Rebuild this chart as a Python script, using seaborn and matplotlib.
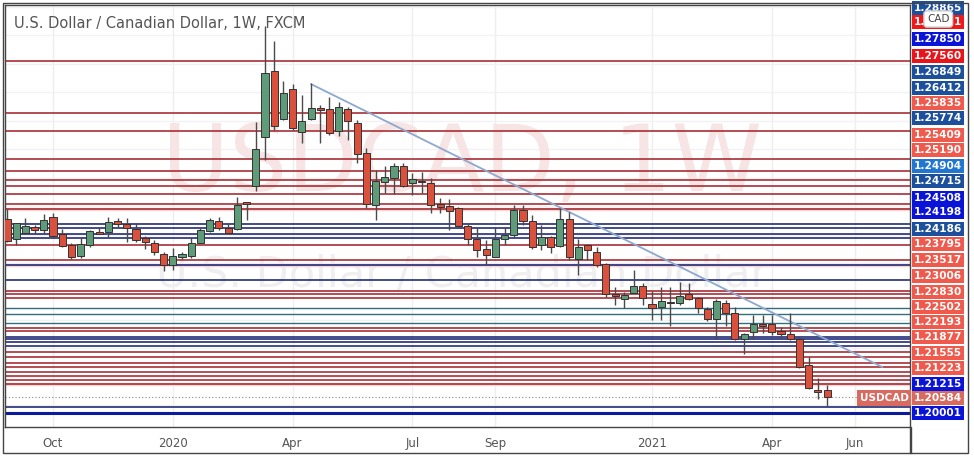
import numpy as np
import pandas as pd
import matplotlib
matplotlib.use("Agg")
import matplotlib.pyplot as plt
import seaborn as sns

# weekly USDCAD candles
opens = [1.3309, 1.3169, 1.3211, 1.3253, 1.3232, 1.3323, 1.3204, 1.3127, 1.3049, 1.3127,
         1.3218, 1.3218, 1.3295, 1.3274, 1.3239, 1.3176, 1.3141, 1.3063, 1.2986, 1.3042,
         1.3049, 1.3141, 1.3225, 1.3295, 1.3246, 1.3239, 1.3429, 1.3541, 1.3886, 1.4350,
         1.4012, 1.4223, 1.3921, 1.4012, 1.4090, 1.4083, 1.3928, 1.4083, 1.3984, 1.3773,
         1.3408, 1.3570, 1.3598, 1.3682, 1.3562, 1.3577, 1.3562, 1.3415, 1.3401, 1.3387,
         1.3260, 1.3169, 1.3099, 1.3042, 1.3169, 1.3197, 1.3373, 1.3295, 1.3127, 1.3183,
         1.3120, 1.3309, 1.3028, 1.3127, 1.3077, 1.2993, 1.2782, 1.2746, 1.2789, 1.2838,
         1.2712, 1.2690, 1.2725, 1.2718, 1.2782, 1.2754, 1.2676, 1.2605, 1.2718, 1.2648,
         1.2465, 1.2514, 1.2570, 1.2570, 1.2521, 1.2500, 1.2465, 1.2282, 1.2107, 1.2107]
closes = [1.3155, 1.3281, 1.3260, 1.3232, 1.3302, 1.3190, 1.3120, 1.3042, 1.3134, 1.3225,
          1.3204, 1.3288, 1.3274, 1.3246, 1.3162, 1.3148, 1.3077, 1.2986, 1.3049, 1.3063,
          1.3141, 1.3232, 1.3302, 1.3246, 1.3211, 1.3408, 1.3415, 1.3802, 1.4336, 1.3963,
          1.4195, 1.3949, 1.3998, 1.4090, 1.4076, 1.3914, 1.4097, 1.3998, 1.3766, 1.3415,
          1.3577, 1.3605, 1.3682, 1.3541, 1.3591, 1.3570, 1.3408, 1.3394, 1.3366, 1.3260,
          1.3169, 1.3092, 1.3056, 1.3169, 1.3197, 1.3373, 1.3295, 1.3113, 1.3183, 1.3113,
          1.3309, 1.3042, 1.3113, 1.3092, 1.2986, 1.2782, 1.2768, 1.2775, 1.2838, 1.2754,
          1.2683, 1.2732, 1.2718, 1.2768, 1.2746, 1.2683, 1.2605, 1.2732, 1.2648, 1.2465,
          1.2500, 1.2570, 1.2556, 1.2514, 1.2500, 1.2465, 1.2268, 1.2121, 1.2093, 1.2058]
highs = [1.3380, 1.3281, 1.3316, 1.3267, 1.3345, 1.3352, 1.3239, 1.3141, 1.3183, 1.3232,
         1.3253, 1.3323, 1.3316, 1.3316, 1.3281, 1.3190, 1.3162, 1.3077, 1.3106, 1.3077,
         1.3176, 1.3246, 1.3316, 1.3323, 1.3281, 1.3464, 1.3429, 1.3992, 1.4666, 1.4561,
         1.4280, 1.4258, 1.4181, 1.4265, 1.4111, 1.4167, 1.4132, 1.4097, 1.4005, 1.3808,
         1.3654, 1.3682, 1.3703, 1.3703, 1.3633, 1.3640, 1.3598, 1.3457, 1.3450, 1.3394,
         1.3281, 1.3246, 1.3162, 1.3253, 1.3253, 1.3408, 1.3408, 1.3338, 1.3267, 1.3190,
         1.3387, 1.3359, 1.3169, 1.3134, 1.3113, 1.3000, 1.2831, 1.2796, 1.2948, 1.2859,
         1.2803, 1.2831, 1.2831, 1.2866, 1.2859, 1.2761, 1.2690, 1.2746, 1.2739, 1.2690,
         1.2507, 1.2634, 1.2634, 1.2634, 1.2549, 1.2648, 1.2479, 1.2338, 1.2192, 1.2142]
lows = [1.3148, 1.3127, 1.3204, 1.3204, 1.3211, 1.3176, 1.3113, 1.3028, 1.3035, 1.3113,
        1.3204, 1.3183, 1.3253, 1.3148, 1.3148, 1.3099, 1.3056, 1.2944, 1.2951, 1.3028,
        1.3035, 1.3141, 1.3218, 1.3232, 1.3211, 1.3232, 1.3302, 1.3506, 1.3724, 1.3935,
        1.4005, 1.3935, 1.3844, 1.4005, 1.3844, 1.3900, 1.3893, 1.3865, 1.3703, 1.3387,
        1.3302, 1.3492, 1.3485, 1.3534, 1.3478, 1.3492, 1.3352, 1.3352, 1.3232, 1.3246,
        1.3127, 1.3042, 1.2986, 1.3042, 1.3127, 1.3183, 1.3267, 1.3099, 1.3092, 1.3070,
        1.3113, 1.3021, 1.2916, 1.3021, 1.2972, 1.2761, 1.2705, 1.2683, 1.2789, 1.2705,
        1.2599, 1.2599, 1.2557, 1.2705, 1.2739, 1.2648, 1.2592, 1.2465, 1.2557, 1.2458,
        1.2360, 1.2465, 1.2507, 1.2493, 1.2465, 1.2458, 1.2261, 1.2114, 1.2044, 1.1995]
weeks = pd.date_range("2019-09-02", periods=len(opens), freq="W-MON")

# horizontal levels drawn on the chart
red_levels = [1.4420, 1.4055, 1.3928, 1.3731, 1.3647, 1.3584, 1.3541, 1.3485, 1.3415, 1.3380,
              1.3127, 1.3021, 1.2803, 1.2782, 1.2754, 1.2542, 1.2521, 1.2373, 1.2338, 1.2296,
              1.2268, 1.2233, 1.2205, 1.2177, 1.2149]
navy_levels = [1.3274, 1.3246, 1.3204, 1.3176, 1.2986, 1.2880, 1.2479, 1.2465, 1.2444, 1.2416, 1.1987]
teal_levels = [1.2683, 1.2641, 1.2577]
base_level = 1.1945

trend_dates = [pd.Timestamp("2020-04-20"), pd.Timestamp("2021-06-28")]
trend_prices = [1.4258, 1.2268]

# price labels stacked on the right scale
axis_labels = ["1.28865", "1.28831", "1.27850", "1.27560", "1.26849", "1.26412", "1.25835", "1.25774",
               "1.25409", "1.25190", "1.24904", "1.24715", "1.24508", "1.24198", "1.24186", "1.23795",
               "1.23517", "1.23006", "1.22830", "1.22502", "1.22193", "1.21877", "1.21555", "1.21223",
               "1.21215", "1.20584", "1.20001"]
label_colors = ["#1c4f9c", "#f01818", "#0a14d8", "#e8141a", "#1c4f9c", "#1c4f9c", "#ef5a4c", "#1c4f9c",
                "#ef5a4c", "#ef5a4c", "#2176d2", "#1c4f9c", "#0a14d8", "#0a14d8", "#1c4f9c", "#ef5a4c",
                "#ef5a4c", "#ef5a4c", "#ef5a4c", "#ef5a4c", "#ef5a4c", "#ef5a4c", "#ef5a4c", "#ef5a4c",
                "#0a14d8", "#d86a60", "#0a14d8"]
label_px = [8, 22, 39, 56, 72, 88, 103, 118, 135, 150, 166, 181, 198, 212, 229, 244,
            260, 276, 292, 307, 322, 337, 353, 368, 384, 398, 413]

tick_dates = ["2019-10-07", "2020-01-06", "2020-04-06", "2020-07-06", "2020-09-07",
              "2021-01-04", "2021-04-05", "2021-06-07"]
tick_names = ["Oct", "2020", "Apr", "Jul", "Sep", "2021", "Apr", "Jun"]

sns.set_style("white")
plt.rcParams['font.family'] = ['DejaVu Sans']

fig = plt.figure(figsize=(9.74, 4.58), dpi=100)
ax = fig.add_axes([5 / 974, 31 / 458, 905 / 974, 422 / 458])
ax.set_ylim(1.1847, 1.4814)
ax.set_xlim(weeks[0] - pd.Timedelta(days=1.5), weeks[0] + pd.Timedelta(days=686))

tick_pos = pd.to_datetime(tick_dates)
for t in tick_pos:
    ax.axvline(t, color="#eeeeee", lw=1, zorder=0)
for p in np.arange(1.20, 1.48, 0.02):
    ax.axhline(p, color="#f2f2f2", lw=1, zorder=0)

# watermark
ax.text(0.505, 0.62, "USDCAD, 1W", transform=ax.transAxes, ha="center", va="center",
        fontsize=66, color="#f7e4e4", zorder=0)
ax.text(0.505, 0.36, "U.S. Dollar / Canadian Dollar", transform=ax.transAxes, ha="center",
        va="center", fontsize=31, color="#efefef", zorder=0)

for p in red_levels:
    ax.axhline(p, color="#a01e24", lw=1.1, zorder=1)
for p in [1.3380, 1.2986, 1.2149]:
    ax.axhspan(p - 0.0008, p + 0.0008, color="#f9d4d4", zorder=0.5)
for p in navy_levels:
    ax.axhline(p, color="#101a6e", lw=1.1, zorder=1)
for p in teal_levels:
    ax.axhline(p, color="#2f6f7e", lw=1, zorder=1)
ax.axhline(base_level, color="#0a1a9a", lw=2.2, zorder=1)
ax.axhline(closes[-1], color="#888888", lw=0.8, ls=(0, (1, 2)), zorder=1)

sns.lineplot(x=trend_dates, y=trend_prices, ax=ax, color="#8ea8cf", lw=1.3, zorder=2)

o = np.array(opens)
c = np.array(closes)
up = c >= o
cols = np.where(up, "#5e9c79", "#d9503c")
ax.vlines(weeks, lows, highs, color="#4a4a4a", lw=1, zorder=3)
body = np.maximum(np.abs(c - o), 0.0004)
ax.bar(weeks, body, bottom=np.minimum(o, c), width=5.4, color=cols,
       edgecolor="#333333", linewidth=0.7, zorder=4)

ax.text(0.01, 0.955, "U.S. Dollar / Canadian Dollar, 1W, FXCM", transform=ax.transAxes,
        fontsize=10.5, color="#555555", ha="left", va="center")

ax.set_xticks(tick_pos)
ax.set_xticklabels(tick_names, fontsize=8.5, color="#555555")
ax.tick_params(axis="x", length=4, color="#555555", pad=3)
ax.set_yticks([])
for s in ax.spines.values():
    s.set_color("#444444")
    s.set_linewidth(1)

# price scale labels
for name, col, py in zip(axis_labels, label_colors, label_px):
    yy = (427 - py) / 422
    ax.text(1.0 + 4 / 905, yy, name, transform=ax.transAxes, ha="left", va="center",
            fontsize=7.6, color="white", fontweight="bold",
            bbox=dict(boxstyle="square,pad=0.2", fc=col, ec="none"))
ax.text(1.0 + 17 / 905, (427 - 19) / 422, "CAD", transform=ax.transAxes, ha="left", va="center",
        fontsize=7.5, color="#444444", zorder=10,
        bbox=dict(boxstyle="round,pad=0.3", fc="white", ec="#cccccc"))
ax.text(1.0 - 50 / 905, (427 - 398) / 422, "USDCAD", transform=ax.transAxes, ha="left",
        va="center", fontsize=7.5, color="white", fontweight="bold",
        bbox=dict(boxstyle="square,pad=0.25", fc="#d86a60", ec="none"))

# outer frame
fig.patches.append(plt.Rectangle((3 / 974, 5 / 458), 965 / 974, 450 / 458, transform=fig.transFigure,
                                 fill=False, ec="#444444", lw=1))
fig.patches.append(plt.Rectangle((910 / 974, 5 / 458), 0.001, 26 / 458, transform=fig.transFigure,
                                 fill=False, ec="#444444", lw=1))

fig.savefig("out.png", dpi=100)
